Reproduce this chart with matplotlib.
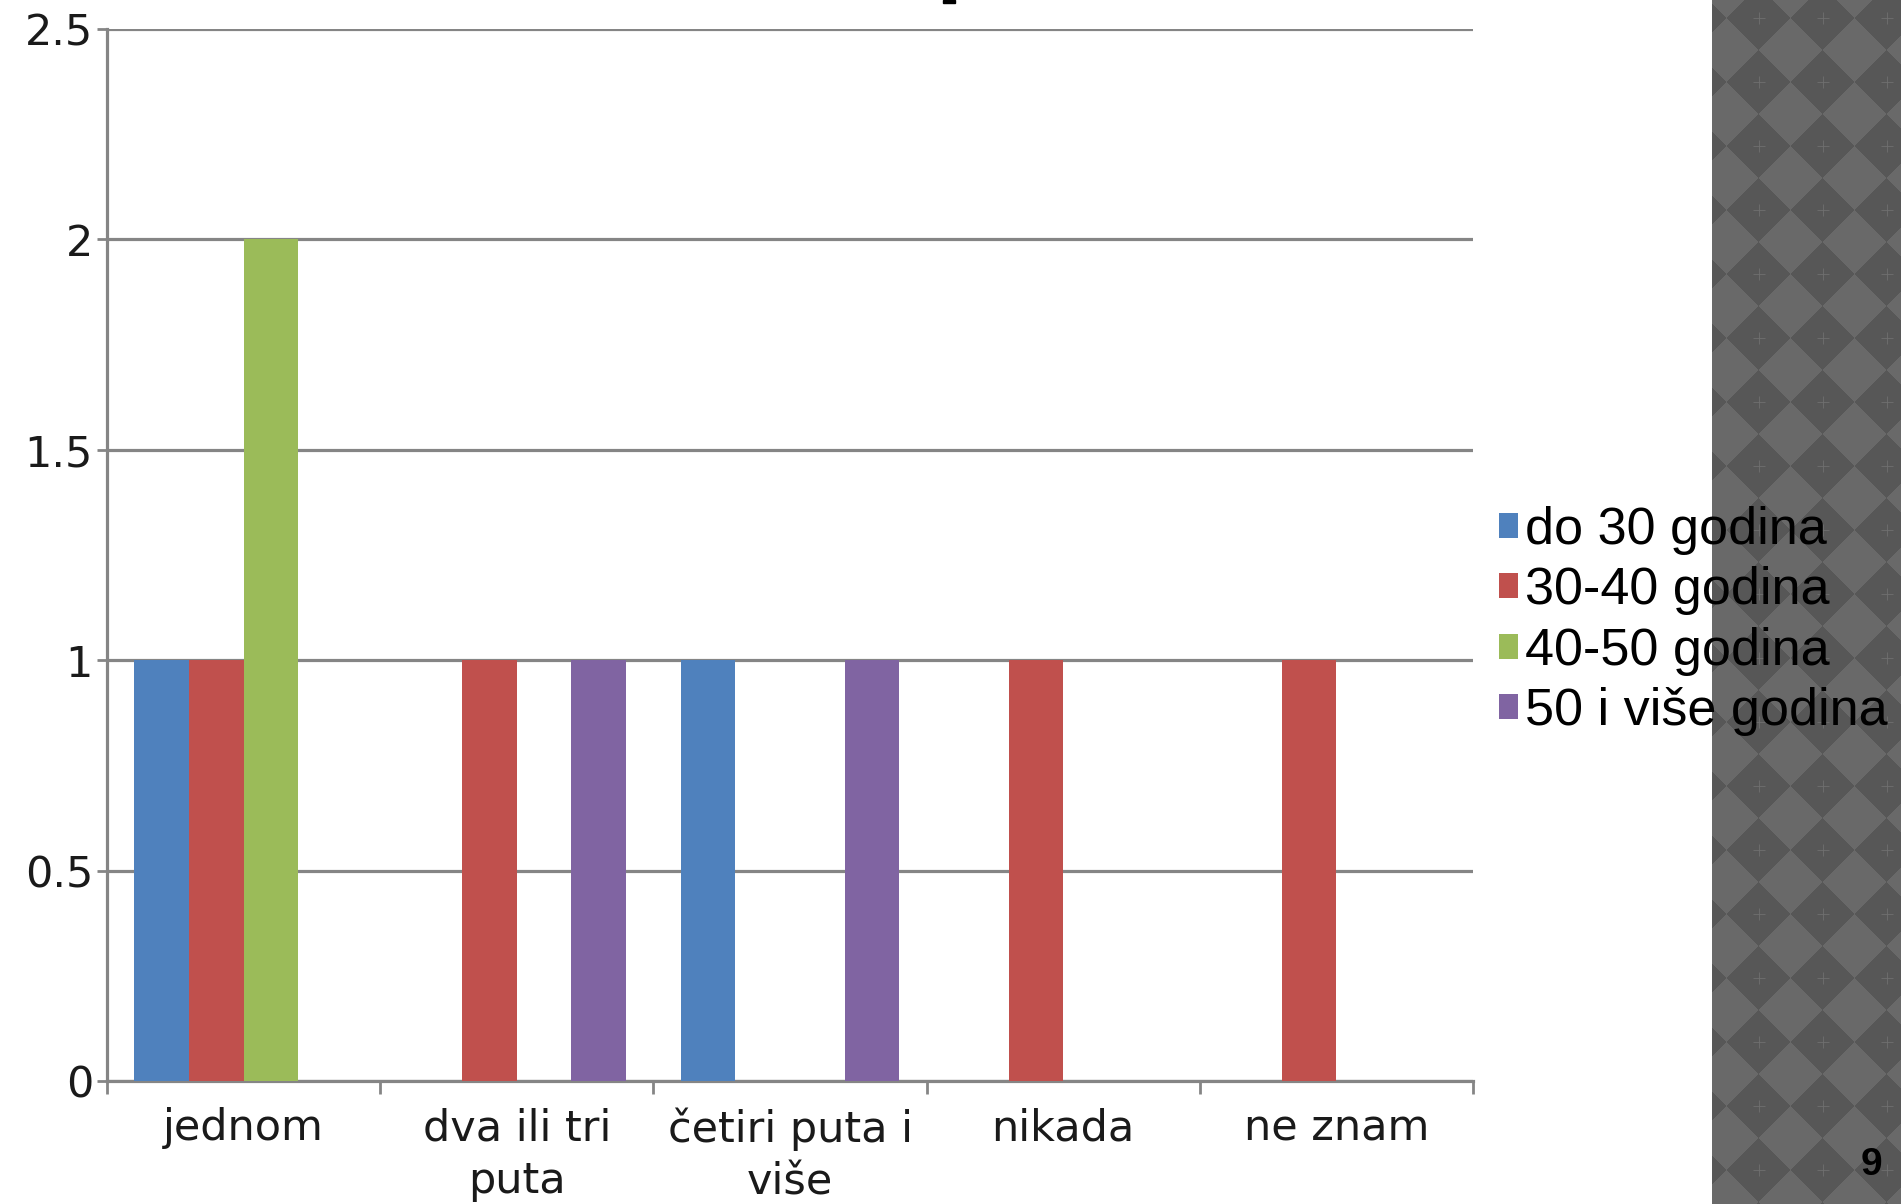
import numpy as np
import matplotlib
matplotlib.use('Agg')
from matplotlib import pyplot as plt
from matplotlib.patches import Rectangle

# data
categories = ['jednom', 'dva ili tri\nputa', 'četiri puta i\nviše', 'nikada', 'ne znam']
series_names = ['do 30 godina', '30-40 godina', '40-50 godina', '50 i više godina']
do_30 = [1, 0, 1, 0, 0]
od_30_40 = [1, 1, 0, 1, 1]
od_40_50 = [2, 0, 0, 0, 0]
od_50 = [0, 1, 1, 0, 0]
y_ticks = [0, 0.5, 1, 1.5, 2, 2.5]
y_tick_labels = ['0', '0.5', '1', '1.5', '2', '2.5']
slide_number = '9'

colors = ['#4F81BD', '#C0504D', '#9BBB59', '#8064A2']
W, H = 1901, 1204

fig = plt.figure(figsize=(W / 100, H / 100), dpi=100, facecolor='white')

# grey argyle strip on the right side of the slide
strip_x0 = 1712
bg = fig.add_axes([strip_x0 / W, 0, 1 - strip_x0 / W, 1], zorder=0)
xs = np.arange(strip_x0, W) + 0.5
ys = np.arange(0, H) + 0.5
X, Y = np.meshgrid(xs - 1759, ys - 18)
u = np.floor((X + Y + 32) / 64)
v = np.floor((X - Y + 32) / 64)
dark = ((u + v) % 2 == 0)
img = np.where(dark, 0.34, 0.415)
bg.imshow(img, cmap='gray', vmin=0, vmax=1, aspect='auto', interpolation='nearest',
          extent=(strip_x0, W, H, 0))
cx = np.arange(1759, W + 64, 64)
cy = np.arange(18, H + 64, 64)
CX, CY = np.meshgrid(cx, cy)
bg.scatter(CX.ravel(), CY.ravel(), marker='+', s=70, linewidths=0.6, color='#6f6f6f')
bg.set_xlim(strip_x0, W)
bg.set_ylim(H, 0)
bg.axis('off')

# main chart
ax = fig.add_axes([107 / W, 1 - 1081 / H, (1473 - 107) / W, (1081 - 29) / H], zorder=2)
ax.patch.set_alpha(0)
x = np.arange(len(categories))
width = 0.2
all_series = [do_30, od_30_40, od_40_50, od_50]
handles = []
for k, (vals, col) in enumerate(zip(all_series, colors)):
    b = ax.bar(x + (k - 1.5) * width, vals, width, color=col, zorder=3, edgecolor='none')
    handles.append(b)

ax.set_xlim(-0.5, len(categories) - 0.5)
ax.set_ylim(0, 2.5)
ax.set_yticks(y_ticks)
ax.set_yticklabels(y_tick_labels)
ax.yaxis.grid(True, color='#858585', linewidth=2.3, zorder=1)
ax.set_axisbelow(True)

ax.set_xticks(x)
ax.set_xticklabels(categories, linespacing=1.32)
ax.set_xticks(np.arange(-0.5, len(categories)), minor=True)
ax.tick_params(axis='x', which='major', length=0, pad=19)
ax.tick_params(axis='x', which='minor', length=9, width=2, color='#858585', direction='out')
ax.tick_params(axis='y', length=7, width=2, color='#858585', direction='out', pad=3)
for lab in ax.get_xticklabels() + ax.get_yticklabels():
    lab.set_fontfamily('DejaVu Sans')
    lab.set_fontsize(31)
    lab.set_color('#1a1a1a')

for s in ['top', 'right']:
    ax.spines[s].set_visible(False)
for s in ['left', 'bottom']:
    ax.spines[s].set_color('#858585')
    ax.spines[s].set_linewidth(2.3)

leg = fig.legend(handles, series_names, loc='upper left',
                 bbox_to_anchor=(1499 / W, 1 - 506 / H), borderaxespad=0, borderpad=0,
                 frameon=False, handlelength=0.36, handleheight=0.36, handletextpad=0.14,
                 labelspacing=0.22, prop={'family': 'Liberation Sans', 'size': 37.5})
leg.set_zorder(5)

# cut-off bit of the slide title at the top edge
fig.patches.append(Rectangle((943 / W, 1 - 3 / H), 12 / W, 3 / H, transform=fig.transFigure,
                             color='black', zorder=6))

fig.text(1882 / W, 1 - 1175 / H, slide_number, ha='right', va='baseline',
         fontsize=28, fontweight='bold', family='Liberation Sans', color='black', zorder=6)

fig.savefig('out.png', dpi=100, facecolor='white')
